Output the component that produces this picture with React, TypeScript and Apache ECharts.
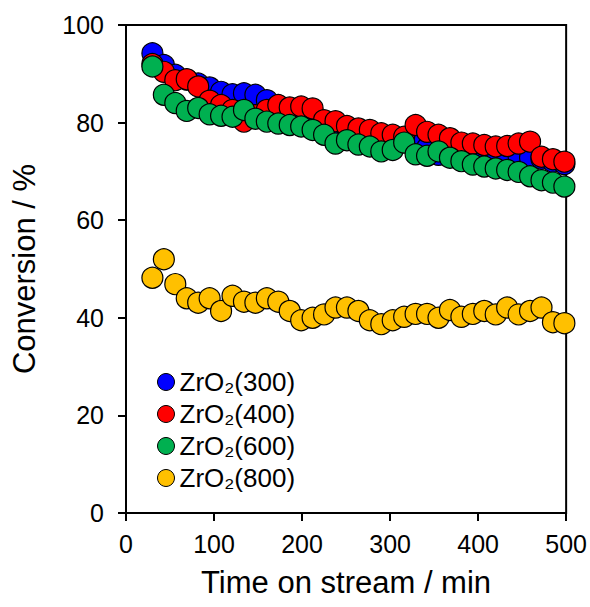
import React, { useEffect, useRef } from "react";
import * as echarts from "echarts";

const times = [30, 43, 56, 69, 82, 95, 108, 121, 134, 147, 160, 173, 186, 199, 212, 225, 238, 251, 264, 277, 290, 303, 316, 329, 342, 355, 368, 381, 394, 407, 420, 433, 446, 459, 472, 485, 498];

const zr300 = [94.2, 91.8, 89.8, 88.8, 88.0, 87.2, 86.3, 85.8, 86.0, 85.7, 84.6, 83.5, 82.6, 81.8, 81.0, 80.2, 79.6, 79.0, 78.3, 77.6, 77.0, 76.5, 76.0, 75.5, 74.8, 73.4, 74.0, 74.2, 74.0, 73.8, 73.5, 73.3, 73.0, 72.8, 72.6, 72.0, 71.5];
const zr400 = [92.0, 90.4, 88.7, 88.9, 87.4, 84.5, 83.6, 82.6, 80.2, 81.5, 82.6, 83.6, 83.1, 83.3, 82.9, 80.5, 80.3, 79.3, 78.8, 78.5, 77.8, 77.5, 77.1, 79.5, 78.1, 77.5, 76.8, 75.9, 75.7, 75.4, 75.1, 75.2, 75.7, 76.1, 73.0, 72.5, 72.0];
const zr600 = [91.5, 85.7, 84.0, 82.4, 83.0, 81.7, 81.4, 81.2, 82.6, 80.8, 80.2, 79.8, 79.5, 79.2, 78.5, 77.5, 75.7, 76.4, 75.5, 75.1, 74.1, 74.4, 75.9, 73.5, 73.2, 74.1, 72.8, 72.1, 71.4, 71.0, 70.6, 70.3, 69.9, 69.0, 68.2, 67.7, 66.9];
const zr800 = [48.2, 52.0, 46.9, 44.0, 43.1, 44.0, 41.4, 44.5, 43.3, 43.1, 44.0, 43.3, 41.4, 39.5, 40.0, 40.7, 42.1, 42.1, 41.4, 39.5, 38.7, 39.5, 40.2, 40.8, 40.8, 40.0, 41.6, 40.2, 40.8, 41.4, 40.7, 42.1, 40.7, 41.4, 42.1, 39.1, 38.9];

const seriesNames = ["ZrO₂(300)", "ZrO₂(400)", "ZrO₂(600)", "ZrO₂(800)"];
const seriesValues = [zr300, zr400, zr600, zr800];
const seriesColors = ["#0000FF", "#FF0000", "#00B050", "#FFC000"];

const xTitle = "Time on stream / min";
const yTitle = "Conversion / %";

const FONT = "'Liberation Sans', Arial, sans-serif";

export default function App() {
  const ref = useRef<HTMLDivElement>(null);
  useEffect(() => {
    document.body.style.margin = "0";
    const chart = echarts.init(ref.current!, undefined, { renderer: "svg" });
    chart.setOption({
      animation: false,
      backgroundColor: "#ffffff",
      textStyle: { fontFamily: FONT, color: "#000" },
      grid: {
        left: 126,
        top: 25,
        right: 22,
        bottom: 94,
        show: true,
        borderColor: "#000",
        borderWidth: 2,
        backgroundColor: "transparent",
      },
      legend: {
        orient: "vertical",
        left: 157,
        top: 369,
        padding: 0,
        itemWidth: 17,
        itemHeight: 17,
        itemGap: 6,
        icon: "circle",
        data: seriesNames,
        itemStyle: { borderColor: "#000", borderWidth: 1 },
        textStyle: { fontFamily: FONT, fontSize: 26, color: "#000", lineHeight: 26 },
      },
      xAxis: {
        type: "value",
        min: 0,
        max: 500,
        interval: 100,
        name: xTitle,
        nameLocation: "middle",
        nameGap: 54,
        nameTextStyle: { fontFamily: FONT, fontSize: 31, color: "#000" },
        axisLine: { show: true, lineStyle: { color: "#000", width: 2 } },
        axisTick: { show: true, inside: false, length: 8, lineStyle: { color: "#000", width: 2 } },
        axisLabel: { fontFamily: FONT, fontSize: 25, color: "#000", margin: 18 },
        splitLine: { show: false },
      },
      yAxis: {
        type: "value",
        min: 0,
        max: 100,
        interval: 20,
        name: yTitle,
        nameLocation: "middle",
        nameGap: 86,
        nameTextStyle: { fontFamily: FONT, fontSize: 31, color: "#000" },
        axisLine: { show: true, lineStyle: { color: "#000", width: 2 } },
        axisTick: { show: true, inside: false, length: 8, lineStyle: { color: "#000", width: 2 } },
        axisLabel: { fontFamily: FONT, fontSize: 25, color: "#000", margin: 22 },
        splitLine: { show: false },
      },
      series: seriesNames.map((name, k) => ({
        name,
        type: "scatter",
        symbol: "circle",
        symbolSize: 21,
        z: 2 + k,
        itemStyle: { color: seriesColors[k], borderColor: "#000", borderWidth: 1.2, opacity: 1 },
        data: times.map((t, i) => [t, seriesValues[k][i]]),
      })),
    });
    return () => chart.dispose();
  }, []);
  return <div ref={ref} style={{ width: 590, height: 607 }} />;
}
